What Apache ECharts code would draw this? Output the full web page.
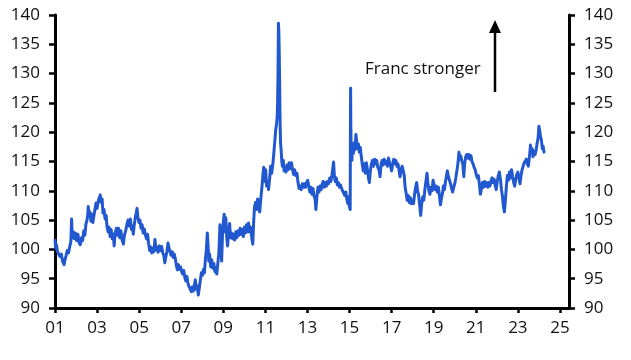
<!DOCTYPE html>
<html><head><meta charset="utf-8">
<script src="https://cdn.jsdelivr.net/npm/echarts@6/dist/echarts.min.js"></script>
<style>html,body{margin:0;padding:0;background:#fff}#c{width:631px;height:360px}</style>
</head><body><div id="c"></div>
<script>
// decimal-year dates and index values
const dates = [
2001.00,2001.03,2001.07,2001.12,2001.18,2001.23,2001.30,2001.36,2001.43,2001.48,2001.53,2001.58,2001.64,2001.70,2001.75,2001.79,2001.82,2001.87,2001.92,2001.97,
2002.03,2002.09,2002.14,2002.20,2002.26,2002.31,2002.37,2002.42,2002.47,2002.52,2002.56,2002.58,2002.62,2002.66,2002.71,2002.76,2002.80,2002.85,2002.90,2002.95,
2003.00,2003.05,2003.10,2003.15,2003.19,2003.24,2003.28,2003.33,2003.38,2003.43,2003.47,2003.52,2003.57,2003.62,2003.67,2003.72,2003.77,2003.81,2003.86,2003.92,2003.97,
2004.02,2004.08,2004.13,2004.19,2004.25,2004.30,2004.36,2004.42,2004.47,2004.52,2004.58,2004.63,2004.68,2004.72,2004.77,2004.82,2004.86,2004.90,2004.94,2004.99,
2005.04,2005.09,2005.14,2005.19,2005.24,2005.30,2005.35,2005.40,2005.45,2005.50,2005.55,2005.60,2005.65,2005.70,2005.75,2005.80,2005.86,2005.90,2005.96,
2006.02,2006.07,2006.12,2006.17,2006.22,2006.27,2006.32,2006.37,2006.42,2006.47,2006.52,2006.57,2006.62,2006.67,2006.72,2006.77,2006.82,2006.87,2006.92,2006.97,
2007.02,2007.07,2007.12,2007.17,2007.22,2007.27,2007.32,2007.38,2007.43,2007.48,2007.53,2007.58,2007.63,2007.67,2007.71,2007.76,2007.81,2007.86,2007.91,2007.96,
2008.01,2008.06,2008.10,2008.15,2008.19,2008.24,2008.27,2008.31,2008.35,2008.40,2008.45,2008.50,2008.55,2008.60,2008.65,2008.69,2008.74,2008.79,2008.84,2008.88,2008.92,2008.96,
2009.00,2009.04,2009.08,2009.12,2009.16,2009.20,2009.25,2009.30,2009.34,2009.39,2009.44,2009.49,2009.54,2009.59,2009.64,2009.70,2009.75,2009.80,2009.85,2009.90,2009.95,
2010.00,2010.05,2010.10,2010.15,2010.20,2010.25,2010.30,2010.35,2010.40,2010.44,2010.48,2010.53,2010.58,2010.63,2010.68,2010.73,2010.78,2010.83,2010.88,2010.92,2010.96,
2011.01,2011.06,2011.11,2011.15,2011.20,2011.25,2011.30,2011.35,2011.40,2011.45,2011.49,2011.53,2011.56,2011.58,2011.60,2011.62,2011.64,2011.66,2011.68,2011.70,2011.72,2011.75,2011.78,2011.81,2011.85,2011.89,2011.93,2011.98,
2012.03,2012.08,2012.13,2012.18,2012.24,2012.29,2012.34,2012.39,2012.44,2012.50,2012.55,2012.60,2012.65,2012.70,2012.76,2012.81,2012.86,2012.91,2012.96,
2013.01,2013.06,2013.11,2013.16,2013.21,2013.26,2013.31,2013.36,2013.40,2013.45,2013.50,2013.55,2013.60,2013.65,2013.70,2013.75,2013.80,2013.85,2013.90,2013.95,
2014.00,2014.06,2014.11,2014.16,2014.21,2014.24,2014.28,2014.32,2014.37,2014.42,2014.47,2014.52,2014.57,2014.62,2014.67,2014.72,2014.77,2014.82,2014.87,2014.92,2014.96,
2015.00,2015.03,2015.04,2015.05,2015.06,2015.08,2015.11,2015.14,2015.18,2015.22,2015.26,2015.30,2015.34,2015.38,2015.42,2015.46,2015.51,2015.56,2015.61,2015.65,2015.70,2015.75,2015.80,2015.85,2015.90,2015.94,2015.99,
2016.04,2016.09,2016.14,2016.19,2016.24,2016.29,2016.34,2016.40,2016.45,2016.50,2016.55,2016.60,2016.65,2016.70,2016.75,2016.80,2016.85,2016.90,2016.95,
2017.00,2017.05,2017.10,2017.15,2017.20,2017.25,2017.30,2017.35,2017.40,2017.45,2017.50,2017.55,2017.60,2017.64,2017.69,2017.74,2017.79,2017.84,2017.89,2017.94,2017.99,
2018.04,2018.09,2018.14,2018.19,2018.24,2018.28,2018.33,2018.38,2018.43,2018.48,2018.53,2018.58,2018.63,2018.68,2018.72,2018.77,2018.82,2018.87,2018.92,2018.97,
2019.02,2019.07,2019.12,2019.17,2019.22,2019.27,2019.32,2019.37,2019.42,2019.46,2019.51,2019.56,2019.61,2019.65,2019.70,2019.75,2019.80,2019.85,2019.90,2019.95,
2020.00,2020.05,2020.10,2020.15,2020.20,2020.24,2020.28,2020.33,2020.38,2020.43,2020.47,2020.52,2020.57,2020.62,2020.67,2020.72,2020.77,2020.82,2020.87,2020.92,2020.97,
2021.02,2021.07,2021.12,2021.17,2021.22,2021.27,2021.32,2021.37,2021.42,2021.47,2021.52,2021.57,2021.62,2021.67,2021.72,2021.77,2021.82,2021.87,2021.92,2021.97,
2022.02,2022.07,2022.12,2022.17,2022.22,2022.27,2022.31,2022.36,2022.41,2022.46,2022.50,2022.55,2022.60,2022.65,2022.70,2022.75,2022.80,2022.85,2022.90,2022.95,
2023.00,2023.05,2023.10,2023.15,2023.20,2023.25,2023.30,2023.35,2023.40,2023.45,2023.50,2023.55,2023.60,2023.64,2023.68,2023.72,2023.77,2023.82,2023.87,2023.92,2023.96,
2024.00,2024.04,2024.08,2024.12,2024.16,2024.20,2024.24,2024.27
];
const values = [
101.8,100.2,100.8,99.6,99.9,98.8,99.2,98.0,97.4,98.3,99.0,99.8,99.4,100.5,101.2,105.2,102.0,103.0,101.8,102.8,
101.5,102.6,101.2,100.8,102.0,101.5,103.2,102.4,104.3,105.0,106.0,107.3,105.6,106.4,104.8,106.0,104.6,105.8,106.8,107.9,
107.0,108.2,108.4,109.3,108.0,108.6,106.2,106.8,105.2,105.8,104.0,103.0,103.8,102.2,103.4,101.8,102.6,100.6,102.8,103.6,102.4,
103.6,102.0,103.2,101.6,100.9,102.4,103.2,104.3,105.0,104.0,105.2,103.4,104.0,102.6,104.3,105.5,106.2,107.0,105.5,104.6,
105.0,103.6,104.2,102.8,103.5,102.4,101.8,102.6,101.0,99.8,100.4,99.4,100.2,99.6,101.7,99.9,100.4,99.5,100.6,
99.8,100.5,99.4,99.0,97.7,98.8,99.6,101.1,100.2,100.0,99.0,99.6,98.6,99.2,98.4,97.2,96.5,97.4,96.6,97.0,
96.2,95.8,96.4,95.2,94.6,95.4,94.2,93.6,93.2,92.8,93.6,92.9,94.0,94.8,93.2,93.8,92.2,93.4,94.8,96.0,
95.6,96.6,96.0,98.4,99.8,102.8,101.0,98.0,99.2,97.0,98.2,96.8,97.6,96.2,96.8,95.8,97.6,99.5,104.2,101.0,98.0,102.4,
104.6,106.0,103.0,105.4,102.2,100.6,102.6,104.4,102.0,102.8,101.8,102.6,101.6,103.0,102.0,103.2,102.4,103.6,102.6,103.4,102.2,
103.8,102.8,104.2,103.0,104.5,103.0,103.8,102.0,100.9,104.5,107.2,108.0,106.8,108.6,107.4,106.4,108.6,110.4,112.6,114.0,111.6,
113.6,110.8,111.6,110.2,112.0,114.2,113.0,114.4,116.4,118.6,120.4,121.4,122.6,125.2,130.0,138.6,137.0,133.2,127.6,121.4,118.2,116.8,115.0,114.2,115.2,113.4,114.0,113.2,
114.4,113.6,114.8,113.8,114.8,113.6,112.8,113.6,112.6,113.0,111.4,110.4,110.8,110.2,111.2,110.6,111.2,110.6,111.4,
111.8,110.8,109.8,110.6,109.4,110.4,109.2,108.6,106.8,109.0,110.6,109.8,110.8,110.2,111.2,111.6,110.6,111.4,110.8,111.6,
111.2,112.2,111.6,112.6,114.0,114.9,112.4,111.6,112.2,111.0,111.4,110.6,111.0,110.4,110.0,109.6,109.2,109.8,108.6,107.8,109.0,
107.2,106.8,119.0,127.5,121.0,116.6,115.2,117.6,116.4,118.2,117.0,119.6,118.4,117.2,118.0,116.6,117.4,115.8,114.4,113.4,114.6,113.0,114.8,113.6,112.2,111.4,113.4,
114.6,115.2,114.2,115.4,114.6,115.2,114.0,113.6,112.4,114.6,115.2,114.4,115.4,114.6,115.0,114.2,115.6,114.8,114.2,
113.4,114.6,115.4,114.6,115.2,114.2,114.6,113.6,112.4,113.6,114.2,114.0,112.6,110.6,109.6,108.4,109.2,108.0,108.8,107.8,108.4,
107.8,109.4,110.6,111.4,109.8,109.4,107.6,105.8,107.8,109.0,108.4,110.2,111.6,113.0,111.4,110.0,109.4,110.6,110.0,111.8,
111.0,110.2,110.8,109.8,110.6,109.2,107.6,108.8,109.6,110.8,110.2,111.6,112.6,113.4,112.4,111.8,111.2,110.4,109.8,110.6,
111.2,112.2,113.4,114.6,116.6,115.4,116.0,115.2,114.6,112.4,114.6,115.8,116.2,115.6,116.2,115.4,116.0,115.0,114.6,114.0,113.6,
112.8,112.2,112.6,111.2,109.4,110.4,111.4,110.6,111.6,110.8,111.4,110.6,111.4,110.8,111.6,112.2,111.4,112.0,111.0,110.2,
111.6,112.6,113.2,112.0,110.2,109.0,107.4,106.4,108.6,111.0,112.6,111.8,113.2,112.2,113.6,112.4,111.4,110.8,112.0,112.8,
113.2,112.2,111.2,112.6,113.6,114.2,114.8,115.0,115.4,114.6,114.2,115.8,117.8,116.6,117.2,115.8,116.8,116.2,117.0,118.2,119.0,
121.0,120.2,119.2,118.6,117.2,117.6,116.6,116.8
];
const xTickYears = [1,3,5,7,9,11,13,15,17,19,21,23,25];
const yMin = 90, yMax = 140, yStep = 5;
const annotation = 'Franc stronger';

const baseYear = 2001;
const seriesData = dates.map((d, i) => [d - baseYear, values[i]]);

const chart = echarts.init(document.getElementById('c'), null, {renderer: 'canvas'});
const FONT = 'Open Sans';
const TXT = '#111';
const FS = 17;
const axisCommon = {
  type: 'value', min: yMin, max: yMax, interval: yStep,
  axisLine: {show: true, lineStyle: {color: '#000', width: 3}},
  axisTick: {show: true, inside: false, length: 6, lineStyle: {color: '#000', width: 2.5}},
  axisLabel: {color: TXT, fontSize: FS, fontFamily: FONT, margin: 15},
  splitLine: {show: false}
};
chart.setOption({
  animation: false,
  backgroundColor: '#fff',
  grid: {left: 55, right: 62, top: 15, bottom: 52, containLabel: false},
  xAxis: {
    type: 'value', min: 0, max: 24.43, interval: 2,
    axisLine: {show: true, onZero: false, lineStyle: {color: '#000', width: 3}},
    axisTick: {show: true, inside: false, length: 5, lineStyle: {color: '#000', width: 2.5}},
    axisLabel: {
      color: TXT, fontSize: FS, fontFamily: FONT, margin: 12, showMaxLabel: false,
      formatter: v => {
        const yr = Math.round(v) + baseYear;
        if (Math.abs(v - Math.round(v)) > 1e-6) return '';
        if (xTickYears.indexOf(yr % 100) < 0) return '';
        return String(yr % 100).padStart(2, '0');
      }
    },
    splitLine: {show: false}
  },
  yAxis: [
    Object.assign({}, axisCommon, {position: 'left'}),
    Object.assign({}, axisCommon, {position: 'right'})
  ],
  series: [{
    type: 'line', data: seriesData, yAxisIndex: 0, showSymbol: false, symbol: 'none',
    lineStyle: {color: '#2258cf', width: 3, join: 'round'}
  }],
  graphic: [
    {type: 'text', left: 365, top: 61, style: {text: annotation, fill: TXT, font: '17px "Open Sans"'}},
    {type: 'line', shape: {x1: 495, y1: 92, x2: 495, y2: 30}, style: {stroke: '#000', lineWidth: 2.5}},
    {type: 'polygon', shape: {points: [[495, 20], [489, 33], [501, 33]]}, style: {fill: '#000'}}
  ]
});
</script>
</body></html>
